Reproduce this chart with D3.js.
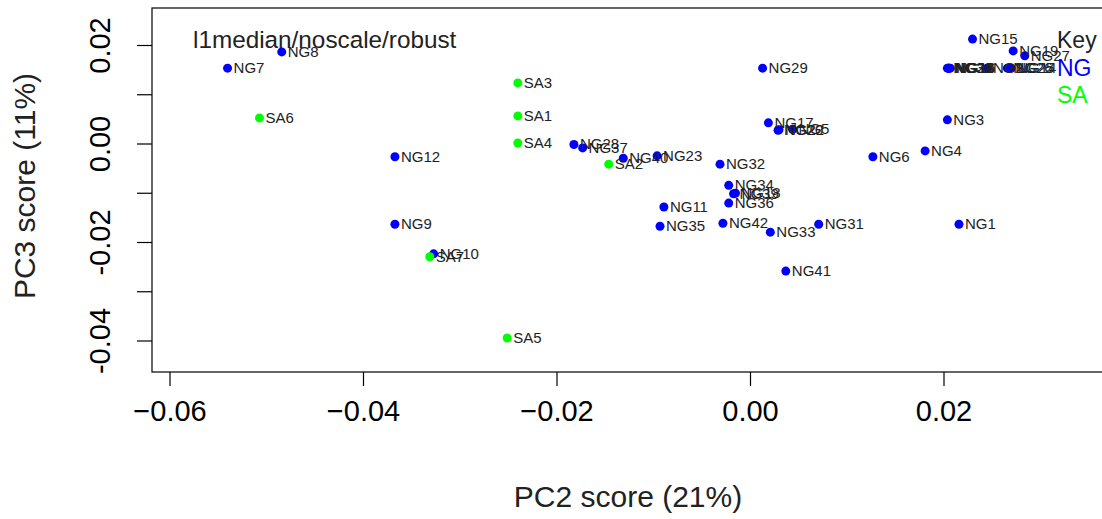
<!DOCTYPE html>
<html>
<head>
<meta charset="utf-8">
<script src="https://cdn.jsdelivr.net/npm/d3@7"></script>
<style>
  body { margin: 0; background: #fff; }
  svg { display: block; font-family: "Liberation Sans", Arial, sans-serif; }
</style>
</head>
<body>
<svg id="chart" width="1102" height="519"></svg>
<script>
// sample groups, PC2 / PC3 scores
var ngLabels = ["NG1", "NG2", "NG3", "NG4", "NG5", "NG6", "NG7", "NG8", "NG9", "NG10",
                "NG11", "NG12", "NG13", "NG14", "NG15", "NG16", "NG17", "NG18", "NG19", "NG20",
                "NG21", "NG22", "NG23", "NG25", "NG26", "NG27", "NG28", "NG29", "NG30",
                "NG31", "NG32", "NG33", "NG34", "NG35", "NG36", "NG37", "NG38", "NG39", "NG40",
                "NG41", "NG42"];
var ngX = [0.0216, 0.0245, 0.0204, 0.0181, 0.0044, 0.0127, -0.0540, -0.0484, -0.0367, -0.0327,
           -0.0089, -0.0367, 0.0206, 0.0270, 0.0230, 0.0207, 0.0019, -0.0015, 0.0272, 0.0029,
           0.0205, 0.0030, -0.0096, 0.0268, 0.0266, 0.0284, -0.0182, 0.0013, 0.0204,
           0.0071, -0.0031, 0.0021, -0.0022, -0.0093, -0.0022, -0.0173, 0.0205, -0.0017, -0.0131,
           0.0037, -0.0028];
var ngY = [-0.0164, 0.0153, 0.0048, -0.0015, 0.0029, -0.0027, 0.0153, 0.0186, -0.0164, -0.0224,
           -0.0129, -0.0027, 0.0153, 0.0153, 0.0212, 0.0153, 0.0042, -0.0101, 0.0188, 0.0027,
           0.0153, 0.0028, -0.0025, 0.0153, 0.0153, 0.0178, -0.0002, 0.0153, 0.0153,
           -0.0164, -0.0042, -0.0180, -0.0085, -0.0168, -0.0121, -0.0009, 0.0153, -0.0102, -0.0030,
           -0.0259, -0.0162];

var saLabels = ["SA1", "SA2", "SA3", "SA4", "SA5", "SA6", "SA7"];
var saX = [-0.0240, -0.0146, -0.0240, -0.0240, -0.0251, -0.0507, -0.0331];
var saY = [0.0056, -0.0042, 0.0123, 0.0001, -0.0395, 0.0052, -0.0230];

var xTicks = [-0.06, -0.04, -0.02, 0.00, 0.02];
var yTicks = [0.02, 0.01, 0.00, -0.01, -0.02, -0.03, -0.04];
var yTickLabels = ["0.02", "", "0.00", "", "-0.02", "", "-0.04"];

var svg = d3.select("#chart");

var box = { left: 152, top: 8, right: 1110, bottom: 372 };

var x = d3.scaleLinear().domain([-0.06, 0.02]).range([169.5, 943.5]);
var y = d3.scaleLinear().domain([-0.04, 0.02]).range([340.5, 45]);

// plot frame
svg.append("rect")
    .attr("x", box.left).attr("y", box.top)
    .attr("width", box.right - box.left).attr("height", box.bottom - box.top)
    .attr("fill", "none").attr("stroke", "#000").attr("stroke-width", 1.2);

// x axis
var xAxis = d3.axisBottom(x).tickValues(xTicks).tickSize(14).tickPadding(14)
    .tickFormat(d3.format(".2f"));
var gx = svg.append("g").attr("transform", "translate(0," + box.bottom + ")").call(xAxis);
gx.select(".domain").remove();
gx.selectAll("line").attr("stroke", "#000").attr("stroke-width", 1.2);
gx.selectAll("text").attr("font-size", 29).attr("fill", "#000")
    .attr("font-family", "Liberation Sans, Arial, sans-serif");

// y axis, labels rotated like R's default
var yAxis = d3.axisLeft(y).tickValues(yTicks).tickSize(15)
    .tickFormat(function (d, i) { return yTickLabels[i]; });
var gy = svg.append("g").attr("transform", "translate(" + box.left + ",0)").call(yAxis);
gy.select(".domain").remove();
gy.selectAll("line").attr("stroke", "#000").attr("stroke-width", 1.2);
gy.selectAll("text")
    .attr("x", null).attr("dy", null)
    .attr("text-anchor", "middle")
    .attr("font-size", 29).attr("fill", "#000")
    .attr("font-family", "Liberation Sans, Arial, sans-serif")
    .attr("transform", "translate(-42,0) rotate(-90)");

// axis titles
svg.append("text")
    .attr("x", 628).attr("y", 507)
    .attr("text-anchor", "middle").attr("font-size", 30).attr("fill", "#222")
    .text("PC2 score (21%)");
svg.append("text")
    .attr("transform", "translate(35,186) rotate(-90)")
    .attr("text-anchor", "middle").attr("font-size", 30).attr("fill", "#222")
    .text("PC3 score (11%)");

// title inside the plot
svg.append("text")
    .attr("x", 193).attr("y", 48)
    .attr("font-size", 24.3).attr("fill", "#222")
    .text("l1median/noscale/robust");

function drawGroup(labels, xs, ys, colour) {
    var data = labels.map(function (l, i) { return { label: l, x: xs[i], y: ys[i] }; });
    var g = svg.append("g");
    g.selectAll("circle").data(data).enter().append("circle")
        .attr("cx", function (d) { return x(d.x); })
        .attr("cy", function (d) { return y(d.y); })
        .attr("r", 4.5)
        .attr("fill", colour);
    return data;
}

var ngData = drawGroup(ngLabels, ngX, ngY, "#0000ff");
var saData = drawGroup(saLabels, saX, saY, "#00ff00");

var labelG = svg.append("g");
labelG.selectAll("text").data(ngData.concat(saData)).enter().append("text")
    .attr("x", function (d) { return x(d.x) + 6; })
    .attr("y", function (d) { return y(d.y) + 5; })
    .attr("font-size", 15).attr("fill", "#222")
    .text(function (d) { return d.label; });

// legend (runs off the right edge like the original)
var legend = [["Key", "#222"], ["NG", "#0000ff"], ["SA", "#00ff00"]];
svg.append("g").selectAll("text").data(legend).enter().append("text")
    .attr("x", 1057)
    .attr("y", function (d, i) { return 48 + i * 27.5; })
    .attr("font-size", 23)
    .attr("fill", function (d) { return d[1]; })
    .text(function (d) { return d[0]; });
</script>
</body>
</html>
